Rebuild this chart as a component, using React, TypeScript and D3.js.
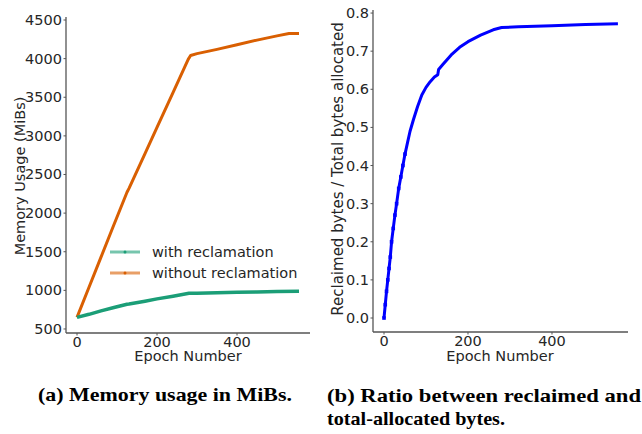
import React from "react";
import * as d3 from "d3";

// ---- Data ----
const withEpochs = [0, 30, 60, 90, 125, 130, 170, 200, 240, 280, 300, 350, 400, 450, 500, 555];
const withValues = [650, 690, 735, 775, 820, 823, 860, 890, 925, 962, 964, 970, 975, 980, 985, 990];

const withoutEpochs = [0, 30, 60, 90, 125, 130, 170, 200, 240, 270, 278, 284, 300, 350, 400, 450, 500, 530, 555];
const withoutValues = [650, 1040, 1430, 1820, 2270, 2320, 2770, 3110, 3560, 3900, 3990, 4040, 4065, 4120, 4180, 4240, 4295, 4325, 4325];

const ratioEpochs = [0, 3, 6, 9, 12, 15, 18, 22, 26, 30, 35, 40, 45, 50, 56, 62, 70, 80, 90, 100, 110, 120, 128, 130, 140, 160, 180, 200, 230, 260, 280, 320, 400, 480, 557];
const ratioValues = [0, 0.035, 0.07, 0.1, 0.13, 0.16, 0.2, 0.235, 0.27, 0.3, 0.34, 0.37, 0.4, 0.43, 0.46, 0.49, 0.52, 0.555, 0.585, 0.605, 0.62, 0.632, 0.638, 0.652, 0.665, 0.69, 0.71, 0.725, 0.742, 0.756, 0.762, 0.764, 0.767, 0.770, 0.772];

const leftYTicks = [500, 1000, 1500, 2000, 2500, 3000, 3500, 4000, 4500];
const rightYTicks = [0.0, 0.1, 0.2, 0.3, 0.4, 0.5, 0.6, 0.7, 0.8];
const xTicks = [0, 200, 400];

const seriesNames = ["with reclamation", "without reclamation"];
const captionA = "(a) Memory usage in MiBs.";
const captionB1 = "(b) Ratio between reclaimed and";
const captionB2 = "total-allocated bytes.";

const GREEN = "#1b9e77";
const ORANGE = "#d95f02";
const BLUE = "#0000ff";
const AXIS = "#555555";
const TEXT = "#262626";
const FONT = "'DejaVu Sans', sans-serif";
const FS = 14.5;
const SERIF = "'Liberation Serif', serif";

export default function App() {
  // Left chart scales
  const lx = d3.scaleLinear().domain([-27.5, 582.5]).range([66, 310]);
  const ly = d3.scaleLinear().domain([448, 4539]).range([333, 17]);
  // Right chart scales
  const rx = d3.scaleLinear().domain([-26.2, 581]).range([373, 628]);
  const ry = d3.scaleLinear().domain([-0.0367, 0.808]).range([332, 10]);

  const lineL = d3
    .line<[number, number]>()
    .x((d) => lx(d[0]))
    .y((d) => ly(d[1]));
  const lineR = d3
    .line<[number, number]>()
    .x((d) => rx(d[0]))
    .y((d) => ry(d[1]));

  const withPts: [number, number][] = withEpochs.map((e, i) => [e, withValues[i]]);
  const withoutPts: [number, number][] = withoutEpochs.map((e, i) => [e, withoutValues[i]]);
  const ratioPts: [number, number][] = ratioEpochs.map((e, i) => [e, ratioValues[i]]);

  const [lx0, lx1] = lx.range();
  const [ly0, ly1] = ly.range();
  const [rx0, rx1] = rx.range();
  const [ry0, ry1] = ry.range();

  return (
    <svg
      width={642}
      height={434}
      style={{ position: "absolute", left: 0, top: 0, background: "#fff" }}
      fontFamily={FONT}
    >
      <rect width={642} height={434} fill="#fff" />
      {/* ===== Left chart ===== */}
      <line x1={lx0} x2={lx0} y1={ly0} y2={ly1} stroke={AXIS} strokeWidth={1.3} />
      <line x1={lx0} x2={lx1} y1={ly0} y2={ly0} stroke={AXIS} strokeWidth={1.3} />
      {leftYTicks.map((t) => (
        <g key={"ly" + t}>
          <line x1={lx0 - 2.5} x2={lx0} y1={ly(t)} y2={ly(t)} stroke={AXIS} strokeWidth={1} />
          <text x={lx0 - 4} y={ly(t)} textAnchor="end" dominantBaseline="central" fontSize={FS} fill={TEXT}>
            {t}
          </text>
        </g>
      ))}
      {xTicks.map((t) => (
        <g key={"lx" + t}>
          <line x1={lx(t)} x2={lx(t)} y1={ly0} y2={ly0 + 2.5} stroke={AXIS} strokeWidth={1} />
          <text x={lx(t)} y={ly0 + 8.5} textAnchor="middle" dominantBaseline="central" fontSize={FS} fill={TEXT}>
            {t}
          </text>
        </g>
      ))}
      <text x={188} y={356} textAnchor="middle" dominantBaseline="central" fontSize={FS} fill={TEXT}>
        Epoch Number
      </text>
      <text
        transform={`translate(25,176) rotate(-90)`}
        textAnchor="middle"
        fontSize={FS}
        fill={TEXT}
      >
        Memory Usage (MiBs)
      </text>
      <path d={lineL(withoutPts) || ""} fill="none" stroke={ORANGE} strokeWidth={3} strokeLinejoin="round" />
      <path d={lineL(withPts) || ""} fill="none" stroke={GREEN} strokeWidth={3.5} strokeLinejoin="round" />

      {/* legend */}
      {seriesNames.map((name, i) => {
        const y = 252 + i * 21;
        const c = i === 0 ? GREEN : ORANGE;
        return (
          <g key={name}>
            <line x1={110} x2={140} y1={y} y2={y} stroke={c} strokeOpacity={0.6} strokeWidth={3} />
            <circle cx={125} cy={y} r={1.5} fill={c} />
            <text x={152} y={y} dominantBaseline="central" fontSize={FS} fill={TEXT}>
              {name}
            </text>
          </g>
        );
      })}

      {/* ===== Right chart ===== */}
      <line x1={rx0} x2={rx0} y1={ry0} y2={ry1} stroke={AXIS} strokeWidth={1.3} />
      <line x1={rx0} x2={rx1} y1={ry0} y2={ry0} stroke={AXIS} strokeWidth={1.3} />
      {rightYTicks.map((t) => (
        <g key={"ry" + t}>
          <line x1={rx0 - 2.5} x2={rx0} y1={ry(t)} y2={ry(t)} stroke={AXIS} strokeWidth={1} />
          <text x={rx0 - 4} y={ry(t)} textAnchor="end" dominantBaseline="central" fontSize={FS} fill={TEXT}>
            {t.toFixed(1)}
          </text>
        </g>
      ))}
      {xTicks.map((t) => (
        <g key={"rx" + t}>
          <line x1={rx(t)} x2={rx(t)} y1={ry0} y2={ry0 + 2.5} stroke={AXIS} strokeWidth={1} />
          <text x={rx(t)} y={ry0 + 9} textAnchor="middle" dominantBaseline="central" fontSize={FS} fill={TEXT}>
            {t}
          </text>
        </g>
      ))}
      <text x={500} y={356} textAnchor="middle" dominantBaseline="central" fontSize={FS} fill={TEXT}>
        Epoch Number
      </text>
      <text
        transform={`translate(343,169) rotate(-90)`}
        textAnchor="middle"
        fontSize={15}
        fill={TEXT}
      >
        Reclaimed bytes / Total bytes allocated
      </text>
      <path d={lineR(ratioPts) || ""} fill="none" stroke={BLUE} strokeWidth={3} strokeLinejoin="round" />
      {ratioPts
        .filter((d) => d[1] < 0.45)
        .map((d, i) => (
          <rect key={"m" + i} x={rx(d[0]) - 1.8} y={ry(d[1]) - 1.8} width={3.6} height={3.6} fill={BLUE} />
        ))}

      {/* captions */}
      <text x={38} y={401} fontFamily={SERIF} fontWeight="bold" fontSize={19} fill="#000" textLength={254} lengthAdjust="spacingAndGlyphs">
        {captionA}
      </text>
      <text x={327} y={402} fontFamily={SERIF} fontWeight="bold" fontSize={19} fill="#000" textLength={314} lengthAdjust="spacingAndGlyphs">
        {captionB1}
      </text>
      <text x={327} y={425} fontFamily={SERIF} fontWeight="bold" fontSize={19} fill="#000" textLength={178} lengthAdjust="spacingAndGlyphs">
        {captionB2}
      </text>
    </svg>
  );
}
